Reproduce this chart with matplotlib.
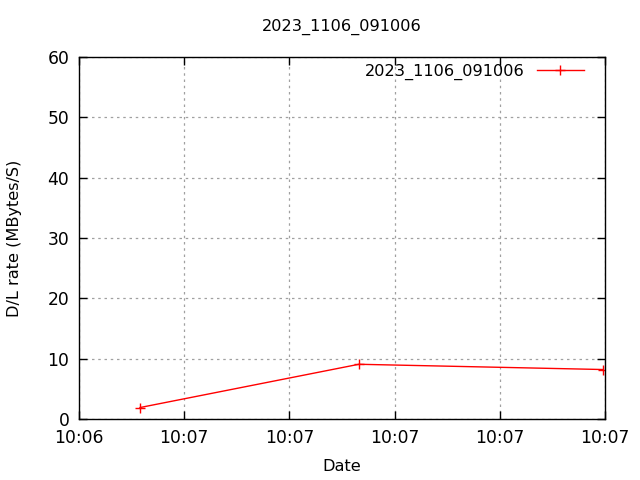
import matplotlib
matplotlib.use("Agg")
import matplotlib.pyplot as plt

x_vals = [0.58, 2.66, 4.98]
y_vals = [1.9, 9.07, 8.2]
x_ticks = [0, 1, 2, 3, 4, 5]
x_labels = ["10:06", "10:07", "10:07", "10:07", "10:07", "10:07"]
y_ticks = [0, 10, 20, 30, 40, 50, 60]
series_name = "2023_1106_091006"

plt.rcParams['font.family'] = ['DejaVu Sans']
fs = 12.3
fs2 = 11.6
fig = plt.figure(figsize=(6.4, 4.8), dpi=100)
ax = fig.add_axes([79/640, 1-419/480, (605-79)/640, (419-57)/480])
ax.plot(x_vals, y_vals, color='red', lw=1, marker='+', ms=7, mew=1, label=series_name)
ax.set_xlim(0, 5)
ax.set_ylim(0, 60)
ax.set_xticks(x_ticks)
ax.set_xticklabels(x_labels)
ax.set_yticks(y_ticks)
ax.tick_params(direction='in', top=True, right=True, length=6, labelsize=fs, pad=7, width=1)
ax.grid(True, color='#a0a0a0', linestyle=(0, (2, 3)), lw=0.9)
for s in ax.spines.values():
    s.set_linewidth(1)
ax.set_xlabel("Date", fontsize=fs2, labelpad=9)
ax.set_ylabel("D/L rate (MBytes/S)", fontsize=fs2, labelpad=18)
fig.text(342/640, 1-27/480, series_name, ha='center', va='center', fontsize=fs2)
leg = ax.legend(loc='upper right', frameon=False, markerfirst=False, fontsize=fs2,
                handlelength=2.9, borderaxespad=0.0, handletextpad=0.75,
                bbox_to_anchor=(1 - 15/526, 1.0))
fig.savefig("out.png", dpi=100)
